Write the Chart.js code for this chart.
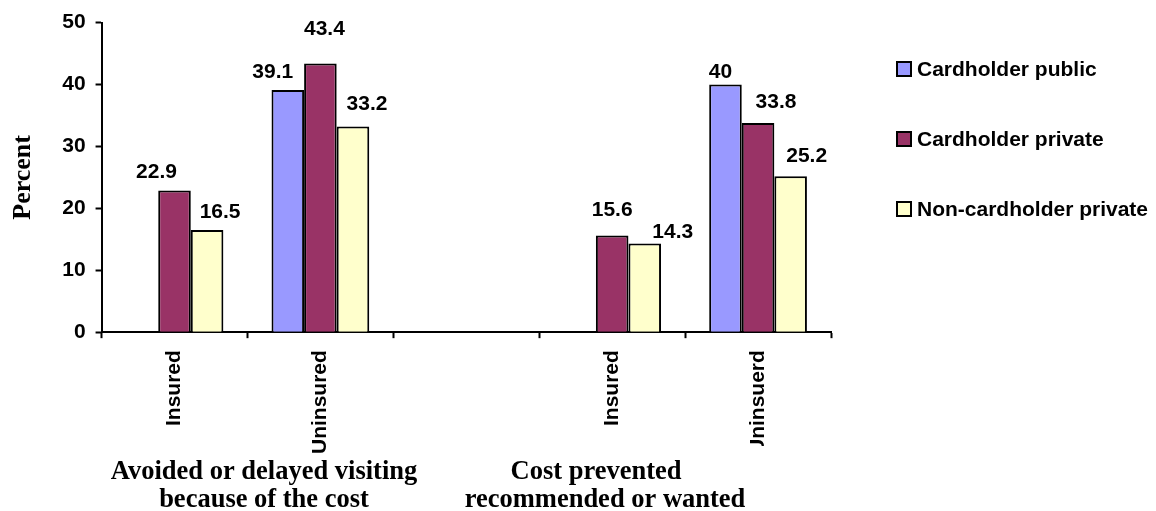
<!DOCTYPE html>
<html>
<head>
<meta charset="utf-8">
<script src="https://cdn.jsdelivr.net/npm/chart.js@4/dist/chart.umd.min.js"></script>
<style>
  html, body { margin: 0; padding: 0; background: #ffffff; }
  #wrap { position: relative; width: 1156px; height: 511px; }
</style>
</head>
<body>
<div id="wrap"><canvas id="chart" width="1156" height="511"></canvas></div>
<script>
// Categories along the x axis (the third slot is an empty spacer between the two groups)
const categories = ['Insured', 'Uninsured', '', 'Insured', 'Uninsuerd'];

// Percent values per series
const cardholderPublic = [null, 39.1, null, null, 40];
const cardholderPrivate = [22.9, 43.4, null, 15.6, 33.8];
const nonCardholderPrivate = [16.5, 33.2, null, 14.3, 25.2];

const seriesNames = ['Cardholder public', 'Cardholder private', 'Non-cardholder private'];
const yTicks = [0, 10, 20, 30, 40, 50];

// Group captions under the category labels
const groupTitles = [
  ['Avoided or delayed visiting', 'because of the cost'],
  ['Cost prevented', 'recommended or wanted']
];

const SANS = '"Liberation Sans", Arial, sans-serif';
const SERIF = '"Liberation Serif", "Times New Roman", serif';
const colors = ['#9999FF', '#993366', '#FFFFCC'];

// Hand-placed nudges for value labels [dx, gap above bar top]
const labelNudges = [
  [null, [-15, 18], null, null, [-5, 12]],
  [[-18, 18], [4, 34], null, [0, 25], [18, 21]],
  [[13, 18], [14, 22], null, [28, 11], [16, 20]]
];

const valueLabels = {
  id: 'valueLabels',
  afterDatasetsDraw(chart) {
    const ctx = chart.ctx;
    ctx.save();
    ctx.font = 'bold 21px ' + SANS;
    ctx.fillStyle = '#000';
    ctx.textAlign = 'center';
    ctx.textBaseline = 'middle';
    chart.data.datasets.forEach((ds, di) => {
      const meta = chart.getDatasetMeta(di);
      meta.data.forEach((bar, i) => {
        const v = ds.data[i];
        if (v === null || v === undefined) return;
        const n = labelNudges[di][i] || [0, 16];
        ctx.fillText(String(v), bar.x + n[0], bar.y - n[1]);
      });
    });
    ctx.restore();
  }
};

const sideLegend = {
  id: 'sideLegend',
  afterDraw(chart) {
    const ctx = chart.ctx;
    ctx.save();
    ctx.font = 'bold 21px ' + SANS;
    ctx.textAlign = 'left';
    ctx.textBaseline = 'middle';
    const x0 = 897, rowY = [69, 139, 209], box = 14;
    chart.data.datasets.forEach((ds, i) => {
      const y = rowY[i];
      ctx.fillStyle = ds.backgroundColor;
      ctx.fillRect(x0, y - box / 2, box, box);
      ctx.lineWidth = 2;
      ctx.strokeStyle = '#000';
      ctx.strokeRect(x0, y - box / 2, box, box);
      ctx.fillStyle = '#000';
      ctx.fillText(ds.label, x0 + box + 6, y + 1);
    });
    ctx.restore();
  }
};

const groupCaptions = {
  id: 'groupCaptions',
  afterDraw(chart) {
    const ctx = chart.ctx;
    ctx.save();
    // caption box of the second group sits over the bottom of the last tick label
    ctx.fillStyle = '#ffffff';
    ctx.fillRect(460, 446, 315, 65);
    ctx.font = 'bold 26.5px ' + SERIF;
    ctx.fillStyle = '#000';
    ctx.textAlign = 'center';
    ctx.textBaseline = 'middle';
    const centers = [[264, 264], [596, 605]];
    const lineY = [472, 500];
    groupTitles.forEach((lines, g) => {
      lines.forEach((t, k) => ctx.fillText(t, centers[g][k], lineY[k]));
    });
    ctx.restore();
  }
};

new Chart(document.getElementById('chart'), {
  type: 'bar',
  data: {
    labels: categories,
    datasets: [cardholderPublic, cardholderPrivate, nonCardholderPrivate].map((d, i) => ({
      label: seriesNames[i],
      data: d,
      backgroundColor: colors[i],
      borderColor: '#000',
      borderWidth: 2,
      borderSkipped: 'bottom',
      categoryPercentage: 0.67,
      barPercentage: 1.0
    }))
  },
  options: {
    responsive: false,
    animation: false,
    layout: { padding: { left: 0, top: 17, right: 325, bottom: 45 } },
    plugins: {
      legend: { display: false },
      tooltip: { enabled: false }
    },
    scales: {
      x: {
        ticks: {
          minRotation: 90, maxRotation: 90, autoSkip: false,
          color: '#000', padding: 12,
          font: { family: SANS, weight: 'bold', size: 21 }
        },
        grid: { drawOnChartArea: false, offset: true, tickLength: 6, tickColor: '#000', tickWidth: 2 },
        border: { color: '#000', width: 2 }
      },
      y: {
        min: 0, max: 50,
        afterBuildTicks(scale) { scale.ticks = yTicks.map(v => ({ value: v })); },
        ticks: {
          color: '#000', padding: 10,
          font: { family: SANS, weight: 'bold', size: 21 }
        },
        grid: { drawOnChartArea: false, tickLength: 6, tickColor: '#000', tickWidth: 2 },
        border: { color: '#000', width: 2 },
        title: {
          display: true, text: 'Percent', color: '#000',
          font: { family: SERIF, weight: 'bold', size: 26 },
          padding: { top: 8, bottom: 13 }
        }
      }
    }
  },
  plugins: [valueLabels, sideLegend, groupCaptions]
});
</script>
</body>
</html>
